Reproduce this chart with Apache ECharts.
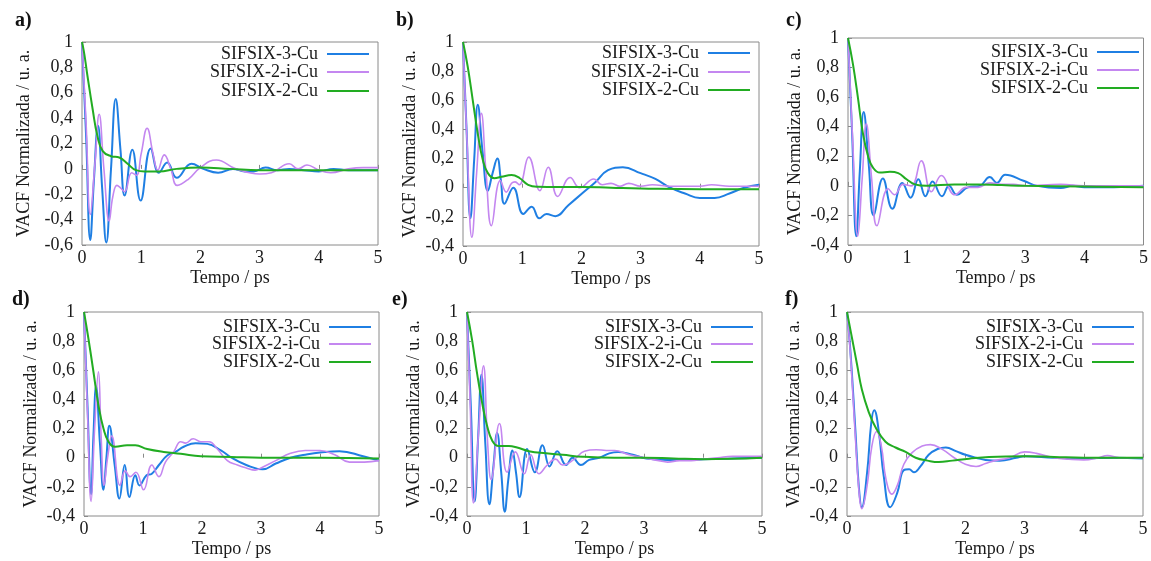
<!DOCTYPE html>
<html><head><meta charset="utf-8">
<script src="https://cdn.jsdelivr.net/npm/echarts@6/dist/echarts.min.js"></script>
<style>html,body{margin:0;padding:0;background:#fff}#c{width:1151px;height:561px}</style>
</head><body><div id="c"></div>
<script>
const seriesNames = ['SIFSIX-3-Cu', 'SIFSIX-2-i-Cu', 'SIFSIX-2-Cu'];
const panelLabels = ['a)', 'b)', 'c)', 'd)', 'e)', 'f)'];
const yMins = [-0.6, -0.4, -0.4, -0.4, -0.4, -0.4];
const xTitle = 'Tempo / ps';
const yTitle = 'VACF Normalizada / u. a.';

// Panel a
const aBlue = [[0,1],[0.07,0.25],[0.14,-0.56],[0.2,-0.1],[0.27,0.34],[0.34,-0.15],[0.41,-0.58],[0.49,0.0],[0.57,0.55],[0.65,0.15],[0.72,-0.21],[0.85,0.15],[0.99,-0.25],[1.16,0.16],[1.30,-0.03],[1.44,0.05],[1.6,-0.07],[1.85,0.04],[2.05,0.0],[2.3,-0.03],[2.55,0.0],[2.75,-0.02],[2.9,-0.02],[3.1,0.01],[3.3,-0.01],[3.5,0.0],[3.75,-0.01],[4.0,-0.02],[4.25,0.0],[4.5,-0.01],[4.75,-0.01],[5,-0.01]];
const aPurple = [[0,1],[0.07,0.35],[0.14,-0.36],[0.22,0.05],[0.29,0.43],[0.37,0.0],[0.46,-0.41],[0.52,-0.22],[0.59,-0.13],[0.65,-0.15],[0.72,-0.18],[0.84,-0.03],[0.92,-0.05],[1.0,0.12],[1.10,0.32],[1.2,0.12],[1.28,-0.01],[1.39,0.11],[1.5,0.0],[1.61,-0.13],[1.8,-0.08],[2.0,0.01],[2.27,0.07],[2.6,0.0],[3.0,-0.04],[3.2,-0.03],[3.5,0.04],[3.65,0.0],[3.8,0.03],[4.0,-0.01],[4.2,-0.03],[4.5,0.0],[4.75,0.01],[5,0.01]];
const aGreen = [[0,1],[0.03,0.93],[0.06,0.84],[0.09,0.74],[0.18,0.47],[0.26,0.26],[0.35,0.14],[0.49,0.10],[0.63,0.09],[0.77,0.04],[0.91,-0.01],[1.06,-0.02],[1.3,-0.02],[1.6,0.0],[2.0,0.01],[2.5,0.0],[3.0,-0.01],[4.0,-0.01],[5,-0.01]];
// Panel b
const bBlue = [[0,1],[0.06,0.4],[0.125,-0.21],[0.19,0.2],[0.25,0.57],[0.33,0.25],[0.42,-0.02],[0.5,0.1],[0.58,0.20],[0.64,0.05],[0.70,-0.11],[0.85,0.0],[1.02,-0.18],[1.16,-0.13],[1.29,-0.21],[1.41,-0.18],[1.56,-0.195],[1.78,-0.12],[2.01,-0.04],[2.24,0.04],[2.45,0.12],[2.7,0.14],[3.0,0.10],[3.25,0.06],[3.5,0.0],[3.75,-0.04],[4.0,-0.07],[4.25,-0.07],[4.5,-0.04],[4.75,0.0],[5,0.02]];
const bPurple = [[0,1],[0.07,0.3],[0.15,-0.34],[0.23,0.1],[0.31,0.51],[0.39,0.1],[0.48,-0.26],[0.63,0.05],[0.73,-0.03],[0.82,0.03],[0.88,0.04],[0.95,0.02],[1.11,0.21],[1.30,-0.02],[1.44,0.14],[1.60,-0.06],[1.81,0.07],[1.97,0.0],[2.21,0.06],[2.35,0.02],[2.5,0.03],[2.65,0.01],[2.8,0.03],[3.0,0.01],[3.2,0.02],[3.5,0.01],[3.8,0.01],[4.0,0.01],[4.2,0.02],[4.5,0.01],[5,0.01]];
const bGreen = [[0,1],[0.08,0.83],[0.165,0.60],[0.25,0.37],[0.335,0.19],[0.42,0.10],[0.53,0.065],[0.65,0.075],[0.82,0.087],[0.96,0.065],[1.10,0.02],[1.27,0.007],[1.6,0.005],[2.0,0.005],[2.5,0.0],[3.0,-0.005],[4.0,-0.01],[5,-0.01]];
// Panel c
const cBlue = [[0,1],[0.07,0.35],[0.14,-0.34],[0.2,0.1],[0.265,0.50],[0.35,0.15],[0.435,-0.20],[0.59,0.05],[0.75,-0.155],[0.92,0.02],[1.06,-0.08],[1.19,0.045],[1.31,-0.07],[1.43,0.03],[1.59,-0.07],[1.71,0.0],[1.84,-0.06],[2.03,-0.01],[2.23,0.0],[2.4,0.06],[2.52,0.02],[2.66,0.075],[2.97,0.035],[3.2,0.0],[3.6,-0.015],[3.8,0.0],[4.0,-0.01],[4.5,-0.01],[5,0.0]];
const cPurple = [[0,1],[0.08,0.3],[0.165,-0.34],[0.24,0.05],[0.31,0.42],[0.4,0.05],[0.49,-0.27],[0.68,-0.02],[0.79,-0.06],[0.93,0.01],[1.07,0.0],[1.24,0.17],[1.41,-0.04],[1.58,0.07],[1.81,-0.06],[2.0,-0.01],[2.2,-0.01],[2.4,0.02],[2.6,0.01],[2.8,0.01],[3.0,0.0],[3.6,0.01],[4.0,0.0],[4.5,0.0],[5,0.0]];
const cGreen = [[0,1],[0.085,0.82],[0.17,0.59],[0.25,0.36],[0.34,0.20],[0.42,0.125],[0.54,0.09],[0.71,0.095],[0.85,0.086],[0.99,0.045],[1.13,0.01],[1.33,0.0],[1.8,0.01],[2.2,0.01],[2.6,0.005],[3.0,0.0],[4.0,-0.005],[5,-0.01]];
// Panel d
const dBlue = [[0,1],[0.06,0.35],[0.12,-0.25],[0.16,0.15],[0.205,0.49],[0.27,0.1],[0.33,-0.22],[0.38,0.0],[0.43,0.22],[0.52,-0.05],[0.60,-0.28],[0.69,-0.05],[0.77,-0.27],[0.87,-0.12],[0.94,-0.19],[1.06,-0.12],[1.15,-0.11],[1.27,-0.05],[1.41,0.015],[1.55,0.04],[1.69,0.075],[1.89,0.10],[2.09,0.095],[2.32,0.05],[2.5,0.0],[2.75,-0.05],[3.03,-0.08],[3.25,-0.04],[3.5,0.0],[3.75,0.02],[4.0,0.035],[4.33,0.045],[4.73,0.01],[5,-0.02]];
const dPurple = [[0,1],[0.06,0.3],[0.12,-0.30],[0.18,0.2],[0.245,0.59],[0.29,0.15],[0.34,-0.19],[0.4,0.0],[0.47,0.15],[0.61,-0.19],[0.70,-0.09],[0.78,-0.13],[0.88,-0.1],[1.01,-0.22],[1.15,-0.05],[1.27,-0.13],[1.38,-0.03],[1.52,0.04],[1.64,0.11],[1.72,0.10],[1.85,0.13],[1.98,0.11],[2.12,0.11],[2.26,0.06],[2.43,-0.02],[2.6,-0.05],[2.75,-0.07],[2.9,-0.085],[3.0,-0.07],[3.25,-0.02],[3.5,0.03],[3.75,0.05],[4.0,0.05],[4.25,0.02],[4.5,-0.03],[4.75,-0.03],[5,-0.02]];
const dGreen = [[0,1],[0.074,0.82],[0.16,0.59],[0.245,0.36],[0.33,0.20],[0.415,0.11],[0.53,0.075],[0.73,0.085],[0.87,0.085],[1.07,0.06],[1.35,0.04],[1.64,0.027],[1.98,0.01],[2.5,0.005],[3.0,0.0],[4.0,0.0],[5,-0.005]];
// Panel e
const eBlue = [[0,1],[0.065,0.35],[0.13,-0.30],[0.19,0.15],[0.245,0.57],[0.31,0.1],[0.38,-0.32],[0.45,-0.05],[0.51,0.17],[0.58,-0.1],[0.64,-0.37],[0.7,-0.15],[0.77,0.05],[0.83,-0.1],[0.89,-0.27],[1.02,0.06],[1.15,-0.10],[1.28,0.085],[1.40,-0.06],[1.53,0.045],[1.68,-0.05],[1.79,0.0],[1.93,-0.05],[2.07,-0.015],[2.24,0.0],[2.41,0.03],[2.56,0.04],[2.81,0.02],[3.04,-0.005],[3.4,-0.015],[3.74,-0.015],[4.0,-0.01],[4.5,-0.005],[5,0.0]];
const ePurple = [[0,1],[0.055,0.35],[0.11,-0.31],[0.2,0.2],[0.28,0.63],[0.35,0.1],[0.41,-0.15],[0.55,0.235],[0.68,-0.10],[0.82,0.04],[0.97,-0.11],[1.08,0.02],[1.22,-0.11],[1.36,-0.05],[1.5,-0.01],[1.62,-0.05],[1.82,-0.01],[1.99,0.045],[2.19,0.055],[2.36,0.05],[2.5,0.05],[2.75,0.02],[3.0,0.0],[3.25,-0.02],[3.4,-0.03],[3.6,-0.02],[3.8,-0.02],[4.0,-0.01],[4.25,0.0],[4.5,0.01],[4.75,0.01],[5,0.01]];
const eGreen = [[0,1],[0.085,0.81],[0.17,0.58],[0.255,0.38],[0.34,0.22],[0.43,0.115],[0.54,0.08],[0.71,0.08],[0.85,0.07],[1.05,0.045],[1.34,0.03],[1.62,0.02],[1.96,0.007],[2.5,0.0],[3.0,0.0],[3.5,-0.005],[4.0,-0.01],[5,0.0]];
// Panel f
const fBlue = [[0,1],[0.056,0.74],[0.14,0.2],[0.2,-0.2],[0.25,-0.34],[0.34,-0.10],[0.41,0.24],[0.46,0.325],[0.54,0.17],[0.62,-0.125],[0.73,-0.34],[0.85,-0.24],[0.96,-0.085],[1.05,-0.08],[1.13,-0.10],[1.24,-0.06],[1.38,0.02],[1.53,0.06],[1.67,0.07],[1.84,0.045],[2.0,0.02],[2.18,0.0],[2.34,-0.015],[2.58,-0.02],[2.86,0.0],[3.0,0.01],[3.5,0.0],[4.0,-0.005],[4.5,0.0],[5,-0.005]];
const fPurple = [[0,1],[0.056,0.72],[0.14,0.15],[0.2,-0.22],[0.25,-0.35],[0.34,-0.19],[0.42,0.08],[0.50,0.18],[0.58,0.08],[0.66,-0.15],[0.76,-0.25],[0.85,-0.19],[0.96,-0.045],[1.10,0.035],[1.27,0.08],[1.41,0.09],[1.61,0.057],[1.81,0.0],[2.0,-0.045],[2.18,-0.06],[2.34,-0.04],[2.5,-0.02],[2.75,0.0],[3.0,0.04],[3.2,0.03],[3.5,0.0],[3.75,-0.01],[4.0,-0.015],[4.25,0.0],[4.4,0.015],[4.6,0.0],[5,0.0]];
const fGreen = [[0,1],[0.085,0.82],[0.17,0.64],[0.25,0.47],[0.37,0.31],[0.48,0.21],[0.65,0.11],[0.82,0.07],[0.99,0.04],[1.16,0.0],[1.36,-0.02],[1.55,-0.03],[1.78,-0.02],[2.06,-0.007],[2.40,0.005],[3.0,0.01],[3.5,0.005],[4.0,0.0],[5,0.0]];

const panelData = [
  [aBlue, aPurple, aGreen],
  [bBlue, bPurple, bGreen],
  [cBlue, cPurple, cGreen],
  [dBlue, dPurple, dGreen],
  [eBlue, ePurple, eGreen],
  [fBlue, fPurple, fGreen]
];

// layout (pixels)
const grids = [
  {left: 82, top: 42, width: 296, height: 203},
  {left: 463, top: 42, width: 296, height: 204},
  {left: 848, top: 38, width: 301, height: 207},
  {left: 84, top: 312, width: 295, height: 204},
  {left: 467, top: 312, width: 295, height: 204},
  {left: 847, top: 312, width: 296, height: 204}
];
const labelPos = [[15, 11], [396, 11], [786, 11], [12, 290], [392, 290], [785, 290]];
const legendRight = [369, 750, 1139, 371, 753, 1134];
const legendRows = [[54, 72, 91], [53, 72, 90], [52, 70, 88], [327, 344, 362], [327, 344, 362], [327, 344, 362]];
const colors = ['#1f7fe3', '#c487f0', '#22ac22'];
const widths = [2, 1.6, 2];
const FONT = 'Liberation Serif';
const TXT = '#1a1a1a';

function fmtY(v) {
  if (Math.abs(v) < 1e-9) return '0';
  if (Math.abs(v - 1) < 1e-9) return '1';
  return v.toFixed(1).replace('.', ',');
}

const option = {
  animation: false,
  backgroundColor: '#fff',
  textStyle: {fontFamily: FONT},
  grid: [], xAxis: [], yAxis: [], series: [], legend: [], graphic: []
};

grids.forEach((g, p) => {
  option.grid.push(Object.assign({show: true, borderColor: '#8a8a8a', borderWidth: 1, backgroundColor: 'transparent', containLabel: false}, g));
  option.xAxis.push({
    type: 'value', gridIndex: p, min: 0, max: 5, interval: 1,
    name: xTitle, nameLocation: 'middle', nameGap: 24,
    nameTextStyle: {fontFamily: FONT, fontSize: 18, color: TXT},
    axisLine: {show: false}, splitLine: {show: false},
    axisTick: {show: true, inside: true, length: 4, lineStyle: {color: '#8a8a8a'}},
    axisLabel: {fontFamily: FONT, fontSize: 18, color: TXT, margin: 4}
  });
  option.yAxis.push({
    type: 'value', gridIndex: p, min: yMins[p], max: 1, interval: 0.2,
    name: yTitle, nameLocation: 'middle', nameGap: p === 0 ? 49 : 44,
    nameTextStyle: {fontFamily: FONT, fontSize: 18, color: TXT},
    axisLine: {show: false}, splitLine: {show: false},
    axisTick: {show: true, inside: true, length: 4, lineStyle: {color: '#8a8a8a'}},
    axisLabel: {fontFamily: FONT, fontSize: 18, color: TXT, margin: 9, formatter: fmtY}
  });
  panelData[p].forEach((d, s) => {
    option.series.push({
      type: 'line', name: seriesNames[s], xAxisIndex: p, yAxisIndex: p,
      data: d, symbol: 'none', smooth: 0.45,
      lineStyle: {color: colors[s], width: widths[s]},
      itemStyle: {color: colors[s]}
    });
    option.legend.push({
      data: [seriesNames[s]], orient: 'vertical', align: 'right',
      right: 1151 - legendRight[p], top: legendRows[p][s] - 10,
      padding: 0, itemWidth: 42, itemHeight: 2, icon: 'rect', selectedMode: false,
      itemStyle: {color: colors[s]},
      textStyle: {fontFamily: FONT, fontSize: 18, color: TXT, lineHeight: 20, padding: [0, 4, 0, 0]}
    });
  });
  option.graphic.push({
    type: 'text', left: labelPos[p][0], top: labelPos[p][1],
    style: {text: panelLabels[p], font: 'bold 20px "Liberation Serif"', fill: '#111'}
  });
});

const chart = echarts.init(document.getElementById('c'), null, {renderer: 'canvas'});
chart.setOption(option);
</script>
</body></html>
